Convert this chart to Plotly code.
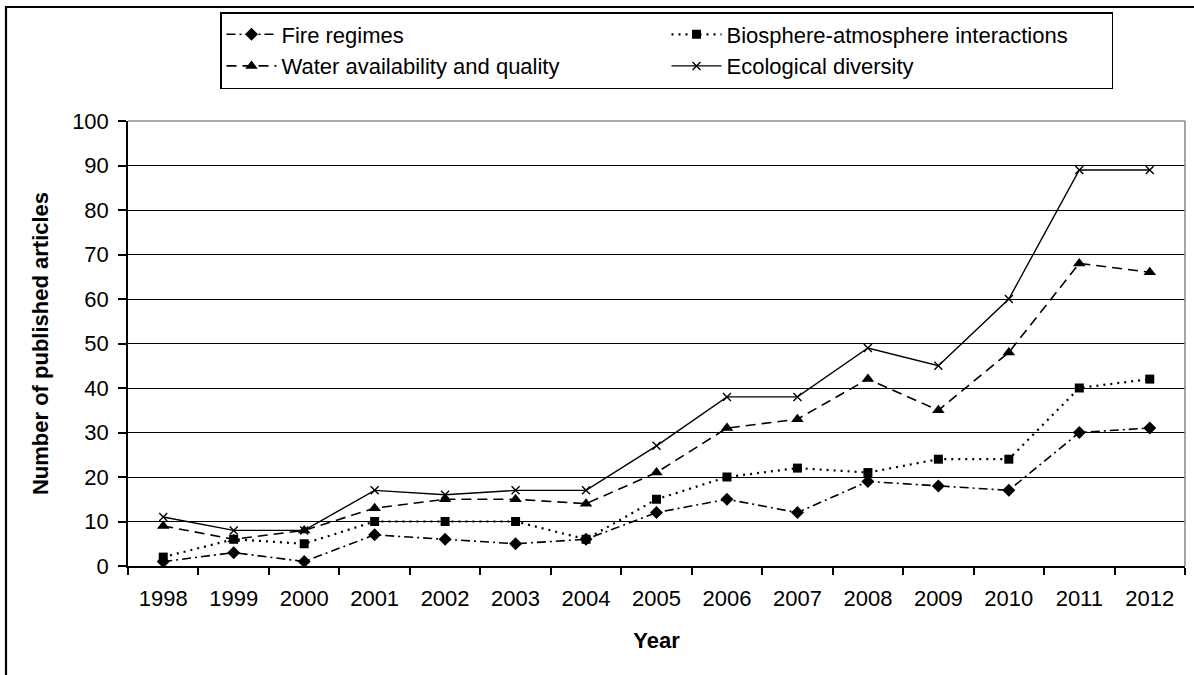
import plotly.graph_objects as go

years = ["1998", "1999", "2000", "2001", "2002", "2003", "2004", "2005",
         "2006", "2007", "2008", "2009", "2010", "2011", "2012"]
fire_regimes = [1, 3, 1, 7, 6, 5, 6, 12, 15, 12, 19, 18, 17, 30, 31]
biosphere_atmosphere = [2, 6, 5, 10, 10, 10, 6, 15, 20, 22, 21, 24, 24, 40, 42]
water_availability = [9, 6, 8, 13, 15, 15, 14, 21, 31, 33, 42, 35, 48, 68, 66]
ecological_diversity = [11, 8, 8, 17, 16, 17, 17, 27, 38, 38, 49, 45, 60, 89, 89]

FONT = "Liberation Sans, Arial, sans-serif"
FS = 22
W, H = 1194, 675
L, R, T, B = 128, 9, 121, 109
pw = W - L - R
ph = H - T - B

fig = go.Figure()
fig.add_trace(go.Scatter(
    x=years, y=fire_regimes, name="Fire regimes", mode="lines+markers",
    line=dict(color="black", width=1.6, dash="9px,4px,2px,4px"),
    marker=dict(symbol="diamond", size=10, color="black")))
fig.add_trace(go.Scatter(
    x=years, y=biosphere_atmosphere, name="Biosphere-atmosphere interactions",
    mode="lines+markers",
    line=dict(color="black", width=2.2, dash="2px,5px"),
    marker=dict(symbol="square", size=9, color="black")))
fig.add_trace(go.Scatter(
    x=years, y=water_availability, name="Water availability and quality",
    mode="lines+markers",
    line=dict(color="black", width=1.6, dash="10px,6px"),
    marker=dict(symbol="triangle-up", size=11, color="black")))
fig.add_trace(go.Scatter(
    x=years, y=ecological_diversity, name="Ecological diversity",
    mode="lines+markers",
    line=dict(color="black", width=1.4),
    marker=dict(symbol="x-thin", size=8, color="black",
                line=dict(color="black", width=1.4))))

def px_x(v):
    return (v - L) / pw

def px_y(v):
    return (H - B - v) / ph

fig.update_layout(
    width=W, height=H,
    margin=dict(l=L, r=R, t=T, b=B, autoexpand=False),
    paper_bgcolor="white", plot_bgcolor="white",
    font=dict(family=FONT, size=FS, color="black"),
    showlegend=True,
    legend=dict(
        orientation="h",
        x=px_x(220), y=px_y(12), xanchor="left", yanchor="top",
        bordercolor="black", borderwidth=1.5, bgcolor="white",
        font=dict(family=FONT, size=FS, color="black"),
        itemwidth=50, entrywidth=380, tracegroupgap=0,
    ),
    xaxis=dict(
        type="category", range=[-0.5, 14.5],
        tickson="boundaries", ticks="outside", ticklen=7, tickwidth=1.5,
        tickcolor="black", showline=True, linecolor="black", linewidth=1.5,
        showgrid=False, zeroline=False, ticklabelstandoff=12,
        tickfont=dict(family=FONT, size=FS),
        title=dict(text="<b>Year</b>", font=dict(family=FONT, size=FS), standoff=22),
    ),
    yaxis=dict(
        range=[0, 100], dtick=10, tick0=0,
        ticks="outside", ticklen=8, tickwidth=1.5, tickcolor="black",
        showline=True, linecolor="black", linewidth=1.5,
        showgrid=True, gridcolor="black", gridwidth=1.4,
        zeroline=False, ticklabelstandoff=5,
        tickfont=dict(family=FONT, size=FS),
        title=dict(text="<b>Number of published articles</b>",
                   font=dict(family=FONT, size=FS), standoff=17),
    ),
    shapes=[
        dict(type="line", xref="paper", yref="paper", x0=0, x1=1, y0=1, y1=1,
             line=dict(color="#8c8c8c", width=1.6), layer="above"),
        dict(type="line", xref="paper", yref="paper", x0=1, x1=1, y0=0, y1=1,
             line=dict(color="#8c8c8c", width=1.6), layer="above"),
        # outer chart frame (top and left visible; right/bottom cut off)
        dict(type="line", xref="paper", yref="paper",
             x0=px_x(5), x1=px_x(W + 10), y0=px_y(7), y1=px_y(7),
             line=dict(color="black", width=2.2), layer="above"),
        dict(type="line", xref="paper", yref="paper",
             x0=px_x(6), x1=px_x(6), y0=px_y(6), y1=px_y(H + 10),
             line=dict(color="black", width=2.2), layer="above"),
    ],
)

fig.write_html(
    "out.html",
    config={"displayModeBar": False},
    post_script="document.body.style.margin='0';document.body.style.padding='0';"
                "document.body.style.overflow='hidden';",
)
